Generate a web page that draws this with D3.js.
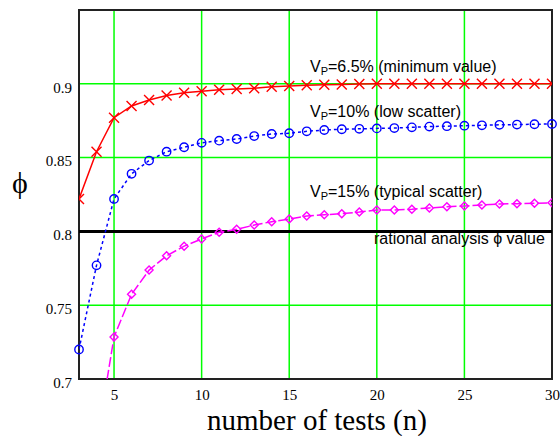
<!DOCTYPE html>
<html>
<head>
<meta charset="utf-8">
<script src="https://cdn.jsdelivr.net/npm/d3@7"></script>
<style>
  body { margin: 0; background: #fff; }
  .note { font-family: "Liberation Sans", Arial, sans-serif; font-size: 16px; fill: #000; }
</style>
</head>
<body>
<svg id="chart" width="560" height="436"></svg>
<script>
// number of tests
const tests = d3.range(3, 31);

// phi values
const phiLow65 = [0.822, 0.854, 0.877, 0.885, 0.889, 0.892, 0.894, 0.895, 0.896, 0.8965,
  0.897, 0.898, 0.8985, 0.899, 0.8993, 0.8996, 0.8999, 0.9, 0.9, 0.9,
  0.9, 0.9, 0.9, 0.9, 0.9, 0.9, 0.9, 0.9];
const phiLow10 = [0.72, 0.777, 0.822, 0.839, 0.848, 0.854, 0.857, 0.86, 0.8615, 0.8626,
  0.8646, 0.866, 0.8665, 0.8678, 0.8687, 0.8692, 0.8695, 0.8698, 0.870, 0.8705,
  0.871, 0.8713, 0.8716, 0.8719, 0.8722, 0.8724, 0.8726, 0.8728];
// n = 3 has no value for 15%; n = 4 falls below the axis
const phiTyp15 = [null, 0.656, 0.7285, 0.7574, 0.7738, 0.7835, 0.790, 0.7949, 0.7994, 0.8014,
  0.8043, 0.8066, 0.8084, 0.8104, 0.8113, 0.812, 0.8131, 0.8145, 0.8145, 0.815,
  0.8159, 0.8167, 0.8172, 0.8179, 0.8186, 0.8188, 0.819, 0.8194];

const rationalPhi = 0.8;
const xTicks = [5, 10, 15, 20, 25, 30];
const yTicks = [0.7, 0.75, 0.8, 0.85, 0.9];

const svg = d3.select("#chart");
const pLeft = 79, pRight = 552, pTop = 10, pBottom = 379;
const serif = "Liberation Serif";

const x = d3.scaleLinear().domain([3, 30]).range([pLeft, pRight]);
const y = d3.scaleLinear().domain([0.7, 0.95]).range([pBottom, pTop]);

svg.append("defs").append("clipPath").attr("id", "plot")
  .append("rect")
  .attr("x", pLeft).attr("y", pTop)
  .attr("width", pRight - pLeft).attr("height", pBottom - pTop);

// grid
const grid = svg.append("g").attr("stroke", "#00ff00").attr("stroke-width", 1.5);
grid.selectAll(".gx").data(xTicks).enter().append("line")
  .attr("x1", d => x(d)).attr("x2", d => x(d))
  .attr("y1", pTop).attr("y2", pBottom);
grid.selectAll(".gy").data(yTicks).enter().append("line")
  .attr("x1", pLeft).attr("x2", pRight)
  .attr("y1", d => y(d)).attr("y2", d => y(d));

// frame
svg.append("rect")
  .attr("x", pLeft).attr("y", pTop)
  .attr("width", pRight - pLeft).attr("height", pBottom - pTop)
  .attr("fill", "none").attr("stroke", "#222").attr("stroke-width", 2);

// rational analysis line
svg.append("line")
  .attr("x1", pLeft).attr("x2", pRight)
  .attr("y1", y(rationalPhi)).attr("y2", y(rationalPhi))
  .attr("stroke", "#000").attr("stroke-width", 3);

// axes labels
const xAxis = d3.axisBottom(x).tickValues(xTicks).tickSize(0).tickPadding(10);
const gx = svg.append("g").attr("transform", "translate(0," + pBottom + ")").call(xAxis)
  .attr("font-family", serif).attr("font-size", 15);
gx.select(".domain").remove();
gx.selectAll("text").attr("fill", "#000");

const yAxis = d3.axisLeft(y).tickValues(yTicks).tickSize(0).tickPadding(7)
  .tickFormat(d3.format(""));
const gy = svg.append("g").attr("transform", "translate(" + pLeft + ",0)").call(yAxis)
  .attr("font-family", serif).attr("font-size", 15);
gy.select(".domain").remove();
gy.selectAll("text").attr("fill", "#000").attr("dy", "0.55em");

svg.append("text")
  .attr("x", 317).attr("y", 430)
  .attr("text-anchor", "middle")
  .attr("font-family", serif)
  .attr("font-size", 29)
  .text("number of tests (n)");

svg.append("text")
  .attr("x", 20).attr("y", 193)
  .attr("text-anchor", "middle")
  .attr("font-family", serif)
  .attr("font-size", 30)
  .text("ϕ");

// series
const series = [
  { name: "6.5", values: phiLow65, color: "#ff0000", dash: null, marker: "x", clip: true },
  { name: "10", values: phiLow10, color: "#0000ff", dash: "3,3", marker: "o", clip: false },
  { name: "15", values: phiTyp15, color: "#ff00ff", dash: "10,3", marker: "d", clip: true }
];

const line = d3.line()
  .defined(d => d[1] != null)
  .x(d => x(d[0]))
  .y(d => y(d[1]));

series.forEach(function (s) {
  const pts = tests.map((n, i) => [n, s.values[i]]);
  svg.append("path")
    .datum(pts)
    .attr("clip-path", "url(#plot)")
    .attr("fill", "none")
    .attr("stroke", s.color)
    .attr("stroke-width", 1.5)
    .attr("stroke-dasharray", s.dash)
    .attr("d", line);

  const shown = pts.filter(d => d[1] != null && d[1] >= 0.7);
  const g = svg.append("g")
    .attr("fill", "none")
    .attr("stroke", s.color)
    .attr("stroke-width", 1.4);
  if (s.clip) g.attr("clip-path", "url(#plot)");

  if (s.marker === "x") {
    g.selectAll("path").data(shown).enter().append("path")
      .attr("d", d => {
        const cx = x(d[0]), cy = y(d[1]), r = 5;
        return "M" + (cx - r) + "," + (cy - r) + "L" + (cx + r) + "," + (cy + r) +
          "M" + (cx - r) + "," + (cy + r) + "L" + (cx + r) + "," + (cy - r);
      });
  } else if (s.marker === "o") {
    g.selectAll("circle").data(shown).enter().append("circle")
      .attr("cx", d => x(d[0])).attr("cy", d => y(d[1])).attr("r", 4.2);
  } else {
    g.selectAll("path").data(shown).enter().append("path")
      .attr("d", d => {
        const cx = x(d[0]), cy = y(d[1]), r = 4;
        return "M" + cx + "," + (cy - r) + "L" + (cx + r) + "," + cy +
          "L" + cx + "," + (cy + r) + "L" + (cx - r) + "," + cy + "Z";
      });
  }
});

// notes
const notes = [
  { pct: "6.5% (minimum value)", x: 310, y: 72 },
  { pct: "10% (low scatter)", x: 310, y: 117 },
  { pct: "15% (typical scatter)", x: 310, y: 197 }
];
notes.forEach(function (n) {
  const t = svg.append("text").attr("class", "note").attr("x", n.x).attr("y", n.y);
  t.append("tspan").text("V");
  t.append("tspan").attr("font-size", "11px").attr("dy", 3).text("P");
  t.append("tspan").attr("dy", -3).text("=" + n.pct);
});

svg.append("text").attr("class", "note")
  .attr("x", 374).attr("y", 244)
  .text("rational analysis ϕ value");
</script>
</body>
</html>
